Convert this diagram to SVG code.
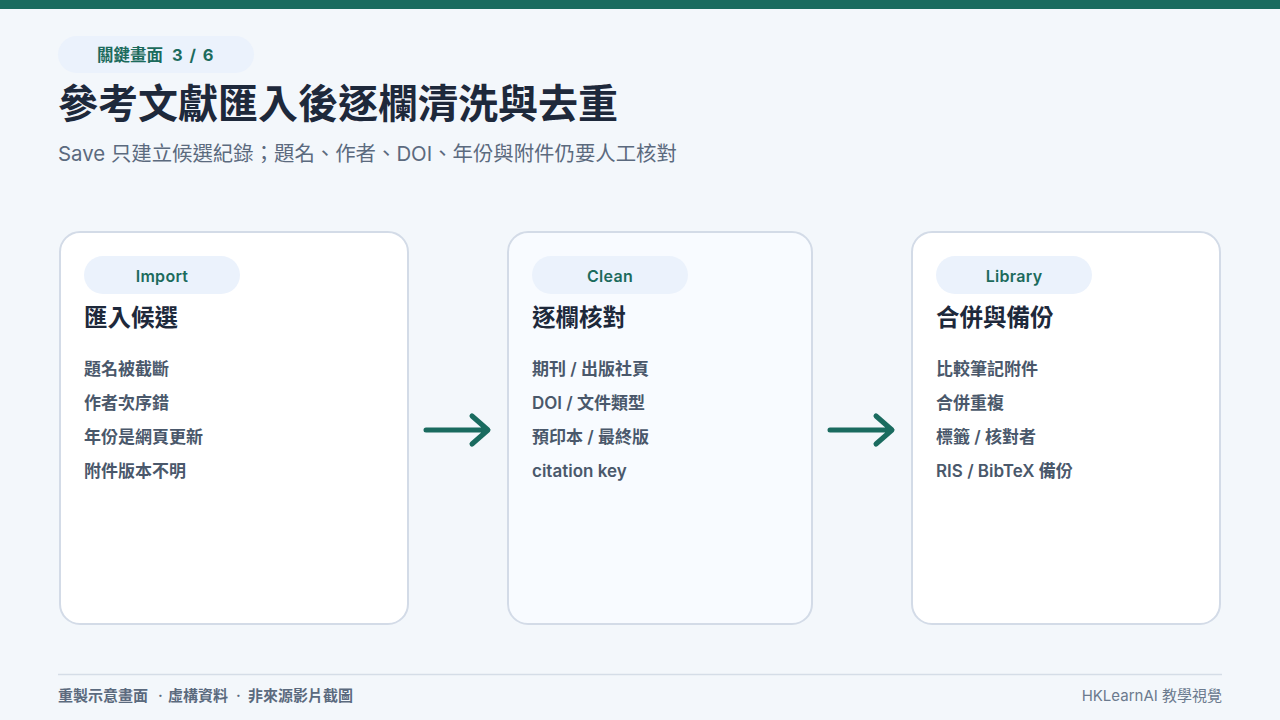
<svg xmlns="http://www.w3.org/2000/svg" width="1280" height="720" viewBox="0 0 1280 720">
<defs>
<style>
text{font-family:Inter,"Noto Sans CJK TC",sans-serif;}
.card{fill:#ffffff;stroke:#d3dbe7;stroke-width:2;}
.card2{fill:#f8fbff;stroke:#d3dbe7;stroke-width:2;}
.pill{fill:#ebf2fc;}
.tag{font-size:16px;font-weight:600;fill:#1c6b5c;text-anchor:middle;letter-spacing:0.3px;}
.head{font-size:23.5px;font-weight:700;fill:#1e293b;}
.item{font-size:17px;font-weight:600;fill:#4a586b;}
.arrow{fill:none;stroke:#1a6b5f;stroke-width:5;stroke-linecap:round;stroke-linejoin:round;}
</style>
</defs>
<rect width="1280" height="720" fill="#f3f7fb"/>
<rect width="1280" height="9" fill="#1a6b5f"/>
<g id="header">
<rect x="58" y="36" width="196" height="37" rx="18.5" class="pill"/>
<text y="61" style="font-size:16.5px;font-weight:700;fill:#1c6b5c"><tspan x="97">關鍵畫面</tspan><tspan x="172" style="letter-spacing:1.5px">3 / 6</tspan></text>
<text x="58" y="118" style="font-size:40px;font-weight:700;fill:#1e293b">參考文獻匯入後逐欄清洗與去重</text>
<text x="58" y="161" style="font-size:20.4px;fill:#5b6a7e">Save 只建立候選紀錄；題名、作者、DOI、年份與附件仍要人工核對</text>
</g>
<g id="node-import">
<rect x="60" y="232" width="348" height="392" rx="20" class="card"/>
<rect x="84" y="256" width="156" height="38" rx="19" class="pill"/>
<text x="162" y="282" class="tag">Import</text>
<text x="84" y="326" class="head">匯入候選</text>
<text x="84" y="375" class="item">題名被截斷</text>
<text x="84" y="409" class="item">作者次序錯</text>
<text x="84" y="443" class="item">年份是網頁更新</text>
<text x="84" y="477" class="item">附件版本不明</text>
</g>
<g id="node-clean">
<rect x="508" y="232" width="304" height="392" rx="20" class="card2"/>
<rect x="532" y="256" width="156" height="38" rx="19" class="pill"/>
<text x="610" y="282" class="tag">Clean</text>
<text x="532" y="326" class="head">逐欄核對</text>
<text x="532" y="375" class="item">期刊 / 出版社頁</text>
<text x="532" y="409" class="item">DOI / 文件類型</text>
<text x="532" y="443" class="item">預印本 / 最終版</text>
<text x="532" y="477" class="item">citation key</text>
</g>
<g id="node-library">
<rect x="912" y="232" width="308" height="392" rx="20" class="card"/>
<rect x="936" y="256" width="156" height="38" rx="19" class="pill"/>
<text x="1014" y="282" class="tag">Library</text>
<text x="936" y="326" class="head">合併與備份</text>
<text x="936" y="375" class="item">比較筆記附件</text>
<text x="936" y="409" class="item">合併重複</text>
<text x="936" y="443" class="item">標籤 / 核對者</text>
<text x="936" y="477" class="item">RIS / BibTeX 備份</text>
</g>
<g id="connectors">
<path class="arrow" d="M426 430 H487 M472 416 L488 430 L472 444"/>
<path class="arrow" d="M830 430 H891 M876 416 L892 430 L876 444"/>
</g>
<g id="footer">
<line x1="58" y1="674.5" x2="1222" y2="674.5" stroke="#d5dde7" stroke-width="1.5"/>
<text y="701" style="font-size:15px;font-weight:600;fill:#5b6a7e"><tspan x="58">重製示意畫面</tspan><tspan x="158">·</tspan><tspan x="168">虛構資料</tspan><tspan x="236">·</tspan><tspan x="248">非來源影片截圖</tspan></text>
<text x="1222" y="701" style="font-size:15px;fill:#6b7a8e;text-anchor:end">HKLearnAI 教學視覺</text>
</g>
</svg>
